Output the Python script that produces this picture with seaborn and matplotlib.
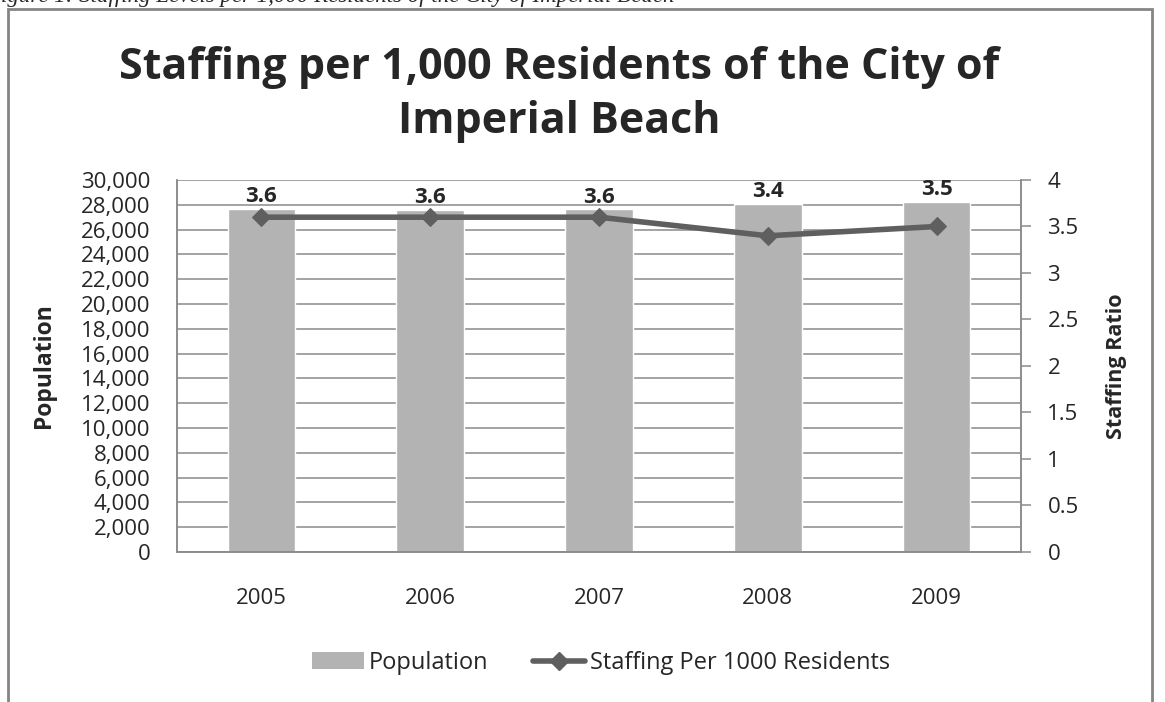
import numpy as np
import pandas as pd
import matplotlib.pyplot as plt
import seaborn as sns
from matplotlib.patches import Rectangle, Patch
from matplotlib.lines import Line2D
from matplotlib.ticker import MultipleLocator, FuncFormatter

years = ['2005', '2006', '2007', '2008', '2009']
population = [27700, 27600, 27650, 28100, 28250]
staffing = [3.6, 3.6, 3.6, 3.4, 3.5]

bar_color = '#b3b3b3'
line_color = '#5f5f5f'
grid_color = '#8a8a8a'

sns.set_style('white')
plt.rcParams['font.family'] = ['Open Sans', 'DejaVu Sans']

df = pd.DataFrame({'year': years, 'population': population, 'staffing': staffing})

fig = plt.figure(figsize=(11.65, 7.02), dpi=100)
ax = fig.add_axes([0.1519, 0.2137, 0.8764 - 0.1519, 0.7436 - 0.2137])

sns.barplot(data=df, x='year', y='population', color=bar_color, width=0.40,
            saturation=1, ax=ax, zorder=2)
ax.set_ylim(0, 30000)
ax.set_xlim(-0.5, 4.5)
ax.yaxis.set_major_locator(MultipleLocator(2000))
ax.yaxis.set_major_formatter(FuncFormatter(lambda v, p: f'{int(v):,}'))
ax.grid(axis='y', color=grid_color, linewidth=1.1, zorder=0)
ax.set_axisbelow(True)
ax.set_xlabel('')
ax.set_ylabel('Population', fontsize=16.5, fontweight='bold', labelpad=18)
ax.tick_params(axis='y', length=0, labelsize=16, pad=19)
ax.tick_params(axis='x', length=0, labelsize=16, pad=26)
for side in ['left', 'right', 'top', 'bottom']:
    ax.spines[side].set_color(grid_color)
    ax.spines[side].set_linewidth(1.1)
ax.spines['top'].set_visible(False)

# data labels above the bars show the staffing ratio
for i, (p, s) in enumerate(zip(population, staffing)):
    ax.annotate(f'{s:.1f}', (i, p), xytext=(0, 1), textcoords='offset points',
                ha='center', va='bottom', fontsize=16, fontweight='bold')

ax2 = ax.twinx()
sns.lineplot(x=np.arange(len(years)), y=staffing, ax=ax2, color=line_color,
             linewidth=4, marker='D', markersize=9.5, markeredgecolor=line_color,
             sort=False)
ax2.set_ylim(0, 4)
ax2.yaxis.set_major_locator(MultipleLocator(0.5))
ax2.yaxis.set_major_formatter(FuncFormatter(lambda v, p: f'{v:g}'))
ax2.set_ylabel('Staffing Ratio', fontsize=15.5, fontweight='bold', labelpad=20)
ax2.tick_params(axis='y', direction='out', length=7, width=1.1, color=grid_color,
                labelsize=16, pad=12)
for side in ['left', 'right', 'top', 'bottom']:
    ax2.spines[side].set_color(grid_color)
    ax2.spines[side].set_linewidth(1.1)
ax2.spines['top'].set_visible(False)

fig.text(0.48, 1 - 79 / 702, 'Staffing per 1,000 Residents of the City of',
         ha='center', va='baseline', fontsize=31, fontweight='bold')
fig.text(0.48, 1 - 133 / 702, 'Imperial Beach',
         ha='center', va='baseline', fontsize=31, fontweight='bold')

# clipped caption at the very top of the page
fig.text(-0.011, 1 - 2 / 702, 'Figure 1: Staffing Levels per 1,000 Residents of the City of Imperial Beach',
         ha='left', va='baseline', fontsize=16.5, style='italic',
         family=['Liberation Serif', 'DejaVu Serif'])

# outer chart border
fig.patches.append(Rectangle((8 / 1165, -0.1), (1152 - 8) / 1165, 1.1 - 9 / 702,
                             transform=fig.transFigure, fill=False,
                             edgecolor='#858585', linewidth=2, clip_on=False))

handles = [Patch(facecolor=bar_color, edgecolor='none'),
           Line2D([0], [0], color=line_color, linewidth=4, marker='D', markersize=9.5)]
fig.legend(handles, ['Population', 'Staffing Per 1000 Residents'],
           loc='center', bbox_to_anchor=(0.516, 0.0556), ncol=2, frameon=False,
           fontsize=17, handlelength=2.2, handletextpad=0.2, columnspacing=1.9)

fig.savefig('out.png', dpi=100)
